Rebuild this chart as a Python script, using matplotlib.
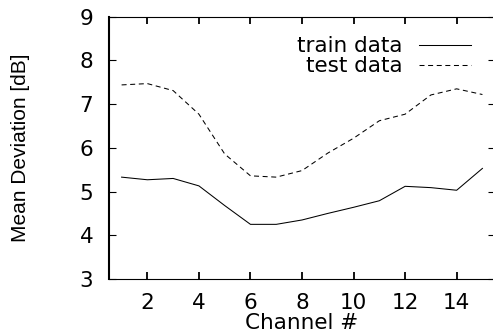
import matplotlib
matplotlib.use("Agg")
import matplotlib.pyplot as plt

# channel number vs mean deviation
channel = [1, 2, 3, 4, 5, 6, 7, 8, 9, 10, 11, 12, 13, 14, 15]
train_dev = [5.33, 5.27, 5.30, 5.13, 4.68, 4.25, 4.25, 4.35, 4.50, 4.64, 4.79, 5.12, 5.09, 5.03, 5.53]
test_dev = [7.44, 7.47, 7.31, 6.77, 5.86, 5.36, 5.33, 5.48, 5.88, 6.22, 6.62, 6.77, 7.21, 7.35, 7.22]
xticks = [2, 4, 6, 8, 10, 12, 14]
yticks = [3, 4, 5, 6, 7, 8, 9]

# the reference looks horizontally stretched, so the wide DejaVu face
# fits the horizontal text better; the rotated label keeps a narrow face
plt.rcParams['font.family'] = ['DejaVu Sans']
plt.rcParams['font.size'] = 15.5
plt.rcParams['lines.scale_dashes'] = False

fig = plt.figure(figsize=(4.93, 3.33), dpi=100)
ax = fig.add_axes([0.2205, 0.1622, 0.7842, 0.7876])

ax.plot(channel, train_dev, color="black", lw=0.75, label="train data")
ax.plot(channel, test_dev, color="black", lw=0.75, linestyle=(0, (3.6, 2.6)), label="test data")

ax.set_xlim(0.5, 15.5)
ax.set_ylim(3, 9)
ax.set_xticks(xticks)
ax.set_yticks(yticks)
ax.tick_params(direction="in", length=5, top=True, right=True)
ax.tick_params(axis="x", pad=10, width=1.3)
ax.tick_params(axis="y", pad=11, width=0.8)
ax.spines["left"].set_linewidth(1.5)
ax.spines["right"].set_linewidth(1.5)
ax.spines["top"].set_linewidth(0.8)
ax.spines["bottom"].set_linewidth(0.8)

ax.set_xlabel("Channel #", labelpad=0)
ax.set_ylabel("Mean Deviation [dB]", labelpad=36, family="Liberation Sans", fontsize=15)

ax.legend(loc="upper right", markerfirst=False, frameon=False,
          handlelength=2.42, handletextpad=0.74, labelspacing=0.0,
          borderpad=0, borderaxespad=0, bbox_to_anchor=(0.937, 0.925))

fig.savefig("out.png", dpi=100)
